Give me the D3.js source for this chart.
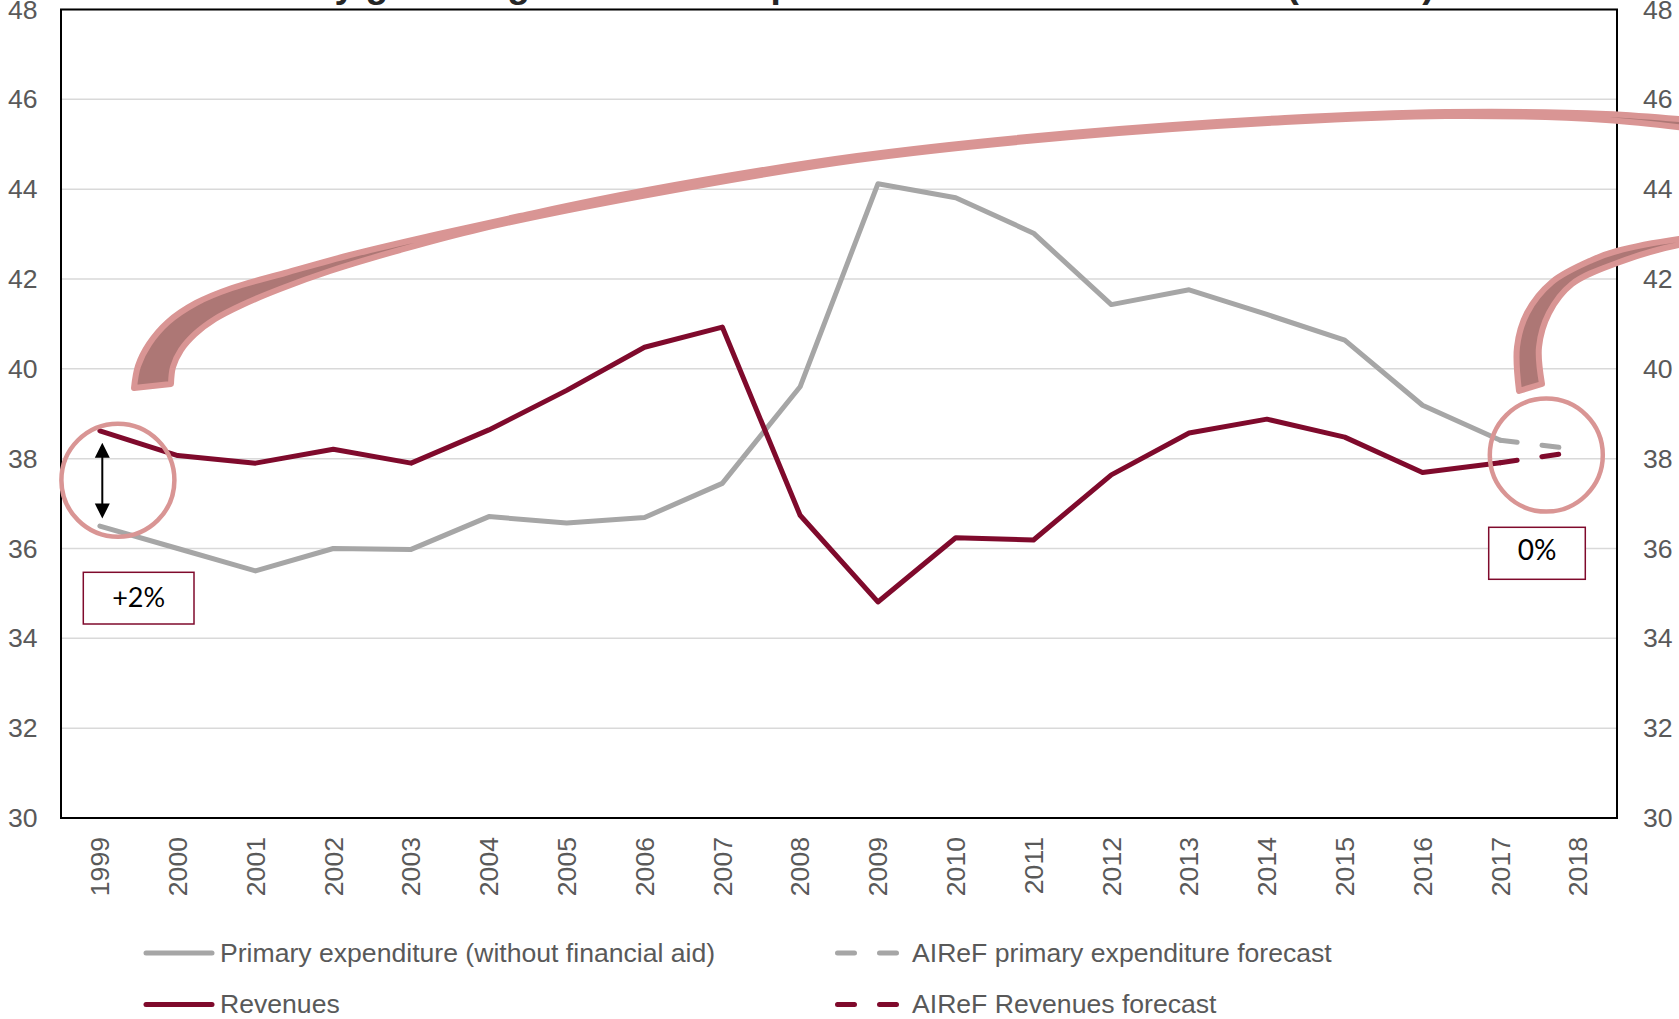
<!DOCTYPE html>
<html>
<head>
<meta charset="utf-8">
<script src="https://cdn.jsdelivr.net/npm/d3@7"></script>
<style>
  body { margin: 0; background: #fff; }
  svg { display: block; }
  text { font-family: "Liberation Sans", Arial, sans-serif; }
</style>
</head>
<body>
<svg id="chart" width="1679" height="1019"></svg>
<script>
var years = ["1999", "2000", "2001", "2002", "2003", "2004", "2005", "2006", "2007", "2008",
  "2009", "2010", "2011", "2012", "2013", "2014", "2015", "2016", "2017", "2018"];
// % of GDP, 1999-2017
var expenditure = [36.5, 36.0, 35.5, 36.0, 35.98, 36.71, 36.57, 36.69, 37.45, 39.6,
  44.12, 43.81, 43.02, 41.43, 41.76, 41.21, 40.64, 39.19, 38.41];
var revenues = [38.62, 38.07, 37.9, 38.21, 37.9, 38.64, 39.52, 40.48, 40.93, 36.74,
  34.81, 36.24, 36.19, 37.64, 38.57, 38.88, 38.48, 37.69, 37.91];
// AIReF forecast
var forecastYears = ["2017", "2018"];
var expenditureForecast = [38.41, 38.2];
var revenuesForecast = [37.91, 38.16];
var yTicks = [30, 32, 34, 36, 38, 40, 42, 44, 46, 48];
var legendLabels = ["Primary expenditure (without financial aid)", "AIReF primary expenditure forecast",
  "Revenues", "AIReF Revenues forecast"];
var title = "Primary general government expenditure and total revenues (% GDP)";

var grey = "#a6a6a6", wine = "#7f0a2c", pink = "#d99594", pinkDark = "#ad7775",
  tickColor = "#595959";

var svg = d3.select("svg");
var plot = { left: 61, right: 1617, top: 9.5, bottom: 818 };

var x = d3.scaleBand().domain(years).range([plot.left, plot.right]);
var y = d3.scaleLinear().domain([30, 48]).range([plot.bottom, plot.top]);
function xc(d) { return x(d) + x.bandwidth() / 2; }
function zip(keys, vals) { return vals.map(function(v, i) { return { year: keys[i], value: v }; }); }

// title, cut off by the top of the picture
svg.append("text")
  .attr("x", 826).attr("y", -3)
  .attr("text-anchor", "middle")
  .style("font-weight", "bold").style("font-size", "37px").style("fill", "#262626")
  .text(title);

// gridlines
svg.append("g").selectAll("line")
  .data(yTicks)
  .join("line")
    .attr("x1", plot.left).attr("x2", plot.right)
    .attr("y1", function(d) { return y(d); }).attr("y2", function(d) { return y(d); })
    .attr("stroke", "#d9d9d9").attr("stroke-width", 1.5);

var line = d3.line()
  .x(function(d) { return xc(d.year); })
  .y(function(d) { return y(d.value); });

var series = [
  { data: zip(years, expenditure), color: grey, dash: null },
  { data: zip(forecastYears, expenditureForecast), color: grey, dash: "17,25" },
  { data: zip(years, revenues), color: wine, dash: null },
  { data: zip(forecastYears, revenuesForecast), color: wine, dash: "17,25" }
];

svg.append("g").selectAll("path")
  .data(series)
  .join("path")
    .attr("d", function(d) { return line(d.data); })
    .attr("fill", "none")
    .attr("stroke", function(d) { return d.color; })
    .attr("stroke-width", 5)
    .attr("stroke-linejoin", "round")
    .attr("stroke-linecap", "round")
    .attr("stroke-dasharray", function(d) { return d.dash; });

// plot frame
svg.append("rect")
  .attr("x", plot.left).attr("y", plot.top)
  .attr("width", plot.right - plot.left).attr("height", plot.bottom - plot.top)
  .attr("fill", "none").attr("stroke", "#000").attr("stroke-width", 2);

// axes
function styleAxis(g) {
  g.select(".domain").remove();
  g.selectAll("text").style("font-size", "26.6px").style("fill", tickColor)
    .style("font-family", "'Liberation Sans', Arial, sans-serif");
}
svg.append("g").attr("transform", "translate(" + plot.left + ",0)")
  .call(d3.axisLeft(y).tickValues(yTicks).tickSize(0).tickPadding(23.5))
  .call(styleAxis);
svg.append("g").attr("transform", "translate(" + plot.right + ",0)")
  .call(d3.axisRight(y).tickValues(yTicks).tickSize(0).tickPadding(26))
  .call(styleAxis);
var bottom = svg.append("g").attr("transform", "translate(0," + plot.bottom + ")")
  .call(d3.axisBottom(x).tickSize(0))
  .call(styleAxis);
bottom.selectAll("text")
  .attr("transform", "rotate(-90)")
  .attr("x", -19).attr("y", 0).attr("dy", "0.35em")
  .style("text-anchor", "end");

// annotations: circles, double arrow, boxes
var ann = svg.append("g");
ann.append("circle")
  .attr("cx", xc("1999") + 18).attr("cy", y(37.52)).attr("r", 56.5)
  .attr("fill", "none").attr("stroke", pink).attr("stroke-width", 4.5);
ann.append("circle")
  .attr("cx", xc("2017") + 46).attr("cy", y(38.08)).attr("r", 56.5)
  .attr("fill", "none").attr("stroke", pink).attr("stroke-width", 4.5);

var ax = xc("1999") + 2.4,
  aTop = y(revenues[0]) + 12,
  aBot = y(expenditure[0]) - 7.5;
ann.append("line")
  .attr("x1", ax).attr("x2", ax).attr("y1", aTop + 10).attr("y2", aBot - 10)
  .attr("stroke", "#000").attr("stroke-width", 2);
ann.append("path")
  .attr("d", "M" + ax + "," + aTop + "L" + (ax + 7.5) + "," + (aTop + 15) + "L" + (ax - 7.5) + "," + (aTop + 15) + "Z"
    + "M" + ax + "," + aBot + "L" + (ax + 7.5) + "," + (aBot - 15) + "L" + (ax - 7.5) + "," + (aBot - 15) + "Z")
  .attr("fill", "#000");

var boxes = [
  { label: "+2%", x: 83.3, y: 572.3, w: 110.7, h: 51.7, size: 27, base: 607 },
  { label: "0%", x: 1488.7, y: 527.3, w: 96.6, h: 52, size: 28, base: 560 }
];
var box = ann.selectAll("g.box").data(boxes).join("g").attr("class", "box");
box.append("rect")
  .attr("x", function(d) { return d.x; }).attr("y", function(d) { return d.y; })
  .attr("width", function(d) { return d.w; }).attr("height", function(d) { return d.h; })
  .attr("fill", "#fff").attr("stroke", wine).attr("stroke-width", 1.5);
box.append("text")
  .attr("x", function(d) { return d.x + d.w / 2; })
  .attr("y", function(d) { return d.base; })
  .attr("text-anchor", "middle")
  .style("font-family", "Lato, 'Open Sans', sans-serif")
  .style("font-size", function(d) { return d.size + "px"; })
  .style("fill", "#000")
  .text(function(d) { return d.label; });

// curved arrows (outer edge, inner edge)
var curvedArrows = [
  {
    outer: [[134, 388], [138, 366], [149, 344], [168, 322], [196, 303], [232, 288], [285, 273], [350, 255],
      [430, 236], [520, 216], [642, 191], [857, 156], [1071, 133], [1285, 118], [1446, 112], [1606, 114], [1700, 121]],
    inner: [[171, 384], [173, 367], [181, 350], [195, 334], [215, 319], [242, 305], [280, 289], [330, 271],
      [400, 250], [480, 229], [642, 196], [857, 160], [1071, 137], [1285, 122], [1446, 116], [1606, 120], [1700, 130]]
  },
  {
    outer: [[1519, 391], [1517, 347], [1527, 313], [1552, 282], [1592, 260], [1617, 251], [1679, 239], [1720, 235]],
    inner: [[1542, 384], [1539, 347], [1549, 313], [1572, 284], [1617, 263], [1679, 245], [1720, 241]]
  }
];
var bend = d3.line().curve(d3.curveCatmullRom.alpha(0.5));
ann.selectAll("path.bend")
  .data(curvedArrows)
  .join("path")
    .attr("class", "bend")
    .attr("d", function(d) {
      return bend(d.outer) + bend(d.inner.slice().reverse()).replace(/^M/, "L") + "Z";
    })
    .attr("fill", pinkDark)
    .attr("stroke", pink)
    .attr("stroke-width", 6)
    .attr("stroke-linejoin", "round");

// legend
var legendItems = [
  { label: legendLabels[0], color: grey, dash: null, x: 146, y: 953 },
  { label: legendLabels[1], color: grey, dash: "17,25", x: 837.5, y: 953 },
  { label: legendLabels[2], color: wine, dash: null, x: 146, y: 1004.5 },
  { label: legendLabels[3], color: wine, dash: "17,25", x: 837.5, y: 1004.5 }
];
var leg = svg.append("g").selectAll("g")
  .data(legendItems)
  .join("g")
    .attr("transform", function(d) { return "translate(" + d.x + "," + d.y + ")"; });
leg.append("line")
  .attr("x1", 0).attr("x2", function(d) { return d.dash ? 60 : 66; })
  .attr("stroke", function(d) { return d.color; })
  .attr("stroke-width", 5)
  .attr("stroke-linecap", "round")
  .attr("stroke-dasharray", function(d) { return d.dash; });
leg.append("text")
  .attr("x", function(d) { return d.dash ? 74.5 : 74; })
  .attr("y", 8.5)
  .style("font-size", "26.6px")
  .style("fill", tickColor)
  .text(function(d) { return d.label; });
</script>
</body>
</html>
